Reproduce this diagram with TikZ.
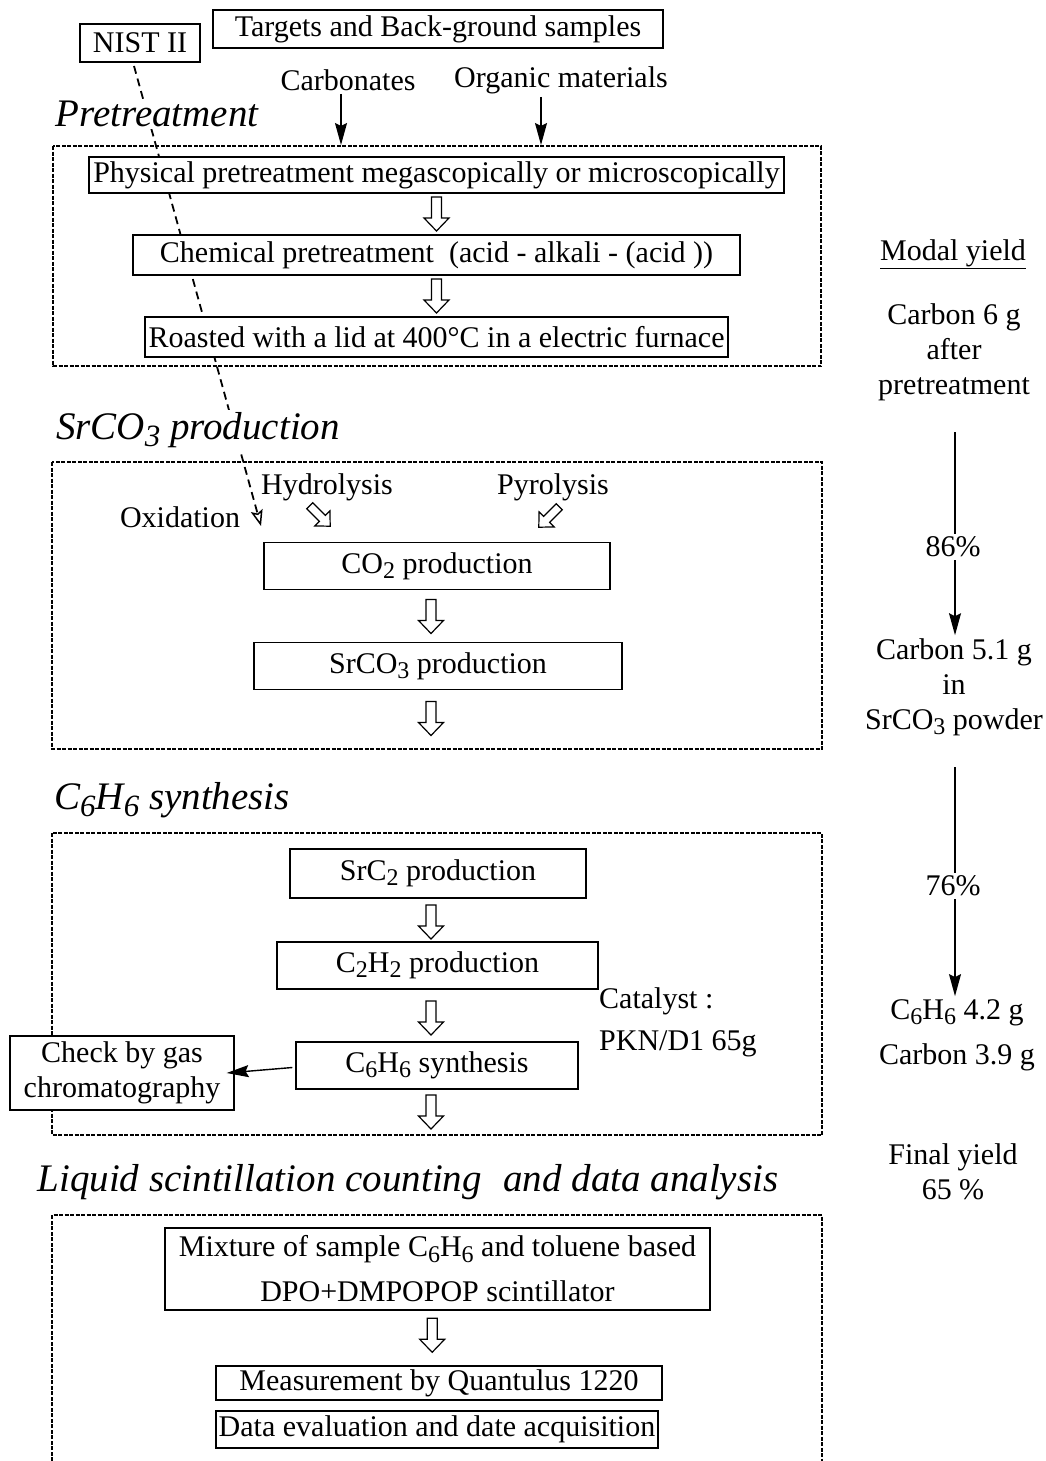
\documentclass[tikz,border=0pt]{standalone}
\usepackage{fontspec}
\setmainfont{Liberation Serif}
\usetikzlibrary{arrows.meta}
\newcommand\lowr[1]{\raisebox{-0.38ex}{\fontsize{24}{24}\selectfont #1}}
\newcommand\hlowr[1]{\raisebox{-0.38ex}{\fontsize{31}{31}\selectfont #1}}
\tikzset{
  base/.style={font=\fontsize{30}{35}\selectfont, inner sep=3pt},
  headtxt/.style={font=\fontsize{39}{44}\selectfont\itshape, inner sep=2pt, fill=white},
  bx/.style n args={2}{base, draw, fill=white, line width=1.3pt, inner sep=0pt, minimum width=#1pt, minimum height=#2pt, align=center},
  dbox/.style={line width=1.3pt, dash pattern=on 4pt off 1.5pt},
  sarrow/.style={line width=1.4pt, -{Stealth[length=22pt, width=12pt, inset=3pt]}},
  yline/.style={line width=1.4pt},
  dline/.style={line width=1.8pt, dash pattern=on 8pt off 5pt},
  harrow/.pic={\draw[line width=1.2pt, fill=white, line join=miter] (-5,-17) -- (-5,4) -- (-12.5,4) -- (0,17) -- (12.5,4) -- (5,4) -- (5,-17) -- cycle;}
}
\begin{document}
\begin{tikzpicture}[x=1pt,y=-1pt]
\useasboundingbox[fill=white] (0,0) rectangle (1046,1461);

% oxidation dashed line (drawn first, behind everything)
\coordinate (nistfoot) at (134,66);
\coordinate (oxtip) at (261,526);
\draw[dline, -{Stealth[open, length=16pt, width=12pt, inset=3pt, line width=1.5pt]}] (nistfoot) -- (oxtip);

% ---------- top
\node[bx={120}{38}] (nist) at (140,43) {NIST II};
\node[bx={450}{38}] (tgt) at (438,29) {Targets and Back-ground samples};
\node[base] (carb) at (348,80) {Carbonates};
\node[base] (org) at (561,80) {Organic materials};
\node[headtxt] (h1) at (157,114) {Pretreatment};

% ---------- Pretreatment box
\draw[dbox] (53,146) rectangle (821,366);
\coordinate (cin) at (341,145);
\coordinate (oin) at (541,145);
\draw[sarrow] (carb.south -| cin) -- (cin);
\draw[sarrow] (org.south -| oin) -- (oin);
\node[bx={695}{36}] (phys) at (436.5,175) {Physical pretreatment megascopically or microscopically};
\node[bx={607}{40}] (chem) at (436.5,255) {Chemical pretreatment\hspace{0.5em}(acid - alkali - (acid ))};
\node[bx={583}{40}] (roast) at (436.5,337) {Roasted with a lid at 400°C in a electric furnace};
\path (phys.south) -- (chem.north) pic[pos=0.5] {harrow};
\path (chem.south) -- (roast.north) pic[pos=0.5] {harrow};

% ---------- SrCO3 box
\node[headtxt] (h2) at (198,430) {SrCO\hlowr{3} production};
\draw[dbox] (52,462) rectangle (822,749);
\node[base] (hyd) at (327,487) {Hydrolysis};
\node[base] (pyr) at (553,487) {Pyrolysis};
\node[base] (oxi) at (180,517) {Oxidation};
\node[bx={346}{47}] (co2) at (437,566) {CO\lowr{2} production};
\node[bx={368}{47}] (sr) at (438,666) {SrCO\lowr{3} production};
\pic[rotate=45, scale=0.85] at (320,516) {harrow};
\pic[rotate=-45, scale=0.85] at (549,517) {harrow};
\pic at (431,616.5) {harrow};
\pic at (431,718.5) {harrow};

% ---------- C6H6 box
\node[headtxt] (h3) at (172,800) {C\hlowr{6}H\hlowr{6} synthesis};
\draw[dbox] (52,833) rectangle (822,1135);
\node[bx={296}{49}] (src2) at (438,873.5) {SrC\lowr{2} production};
\node[bx={321}{47}] (c2h2) at (437.5,965.5) {C\lowr{2}H\lowr{2} production};
\node[bx={282}{47}] (c6h6) at (437,1065.5) {C\lowr{6}H\lowr{6} synthesis};
\pic at (431,922) {harrow};
\pic at (431,1018) {harrow};
\pic at (431,1112) {harrow};
\node[base, align=left, anchor=west, font=\fontsize{30}{42}\selectfont] (cat) at (596,1022) {Catalyst :\\PKN/D1 65g};
\node[bx={224}{74}] (chk) at (122,1073) {Check by gas\\chromatography};
\draw[sarrow] ([xshift=-3pt, yshift=-2pt]c6h6.west) -- ([xshift=-8pt]chk.east);

% ---------- Liquid scintillation box
\node[headtxt] (h4) at (408,1182) {Liquid scintillation counting\hspace{0.3em} and data analysis};
\draw[dbox] (52,1461) -- (52,1215) -- (822,1215) -- (822,1461);
\node[bx={545}{82}, font=\fontsize{30}{45}\selectfont] (mix) at (437.5,1269) {Mixture of sample C\lowr{6}H\lowr{6} and toluene based\\DPO+DMPOPOP scintillator};
\node[bx={446}{34}] (meas) at (439,1383) {Measurement by Quantulus 1220};
\node[bx={442}{37}] (data) at (437,1429.5) {Data evaluation and date acquisition};
\path (mix.south) -- (meas.north) pic[pos=0.45, xshift=-6pt] {harrow};

% ---------- right column
\node[base] (my) at (953,254) {\underline{Modal yield}};
\node[base, align=center] (y1) at (954,352) {Carbon 6 g\\after\\pretreatment};
\node[base] (p86) at (953,547) {86\%};
\node[base, align=center] (y2) at (954,687) {Carbon 5.1 g\\in\\SrCO\lowr{3} powder};
\node[base] (p76) at (953,886) {76\%};
\node[base, align=center, font=\fontsize{30}{45}\selectfont] (y3) at (957,1035) {C\lowr{6}H\lowr{6} 4.2 g\\Carbon 3.9 g};
\node[base, align=center] (y4) at (953,1172) {Final yield\\65 \%};
\coordinate (a1) at (955,432);
\coordinate (a2) at (955,767);
\draw[yline] (a1) -- (p86.north -| a1);
\draw[sarrow] (p86.south -| a1) -- (y2.north -| a1);
\draw[yline] (a2) -- (p76.north -| a2);
\draw[sarrow] (p76.south -| a2) -- (y3.north -| a2);
\end{tikzpicture}
\end{document}
